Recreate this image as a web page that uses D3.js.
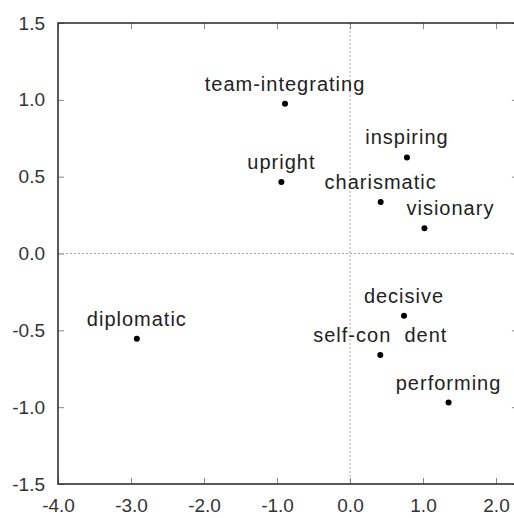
<!DOCTYPE html>
<html>
<head>
<meta charset="utf-8">
<script src="https://cdn.jsdelivr.net/npm/d3@7"></script>
<style>
body { margin: 0; overflow: hidden; background: #fff; }
text { font-family: Arial, "Liberation Sans", sans-serif; }
</style>
</head>
<body>
<svg id="chart" width="514" height="518"></svg>
<script>
// values
var traits = ["team-integrating", "upright", "inspiring", "charismatic", "visionary", "decisive", "self-con  dent", "performing", "diplomatic"];
var dim1 = [-0.89, -0.94, 0.78, 0.42, 1.02, 0.74, 0.415, 1.35, -2.92];
var dim2 = [0.975, 0.465, 0.625, 0.335, 0.165, -0.405, -0.66, -0.97, -0.555];
var xTicks = [-4, -3, -2, -1, 0, 1, 2];
var xTickLabels = ["-4.0", "-3.0", "-2.0", "-1.0", "0.0", "1.0", "2.0"];
var yTicks = [-1.5, -1, -0.5, 0, 0.5, 1, 1.5];
var yTickLabels = ["-1.5", "-1.0", "-0.5", "0.0", "0.5", "1.0", "1.5"];

var svg = d3.select("#chart");
var x = d3.scaleLinear().domain([-4, 2.3]).range([58, 517.9]);
var y = d3.scaleLinear().domain([-1.5, 1.5]).range([484, 23]);

// dotted zero lines
svg.append("line")
	.attr("x1", x(0)).attr("x2", x(0))
	.attr("y1", y(1.5)).attr("y2", y(-1.5))
	.attr("stroke", "#aaa").attr("stroke-dasharray", "2,2");
svg.append("line")
	.attr("x1", x(-4)).attr("x2", x(2.3))
	.attr("y1", y(0)).attr("y2", y(0))
	.attr("stroke", "#aaa").attr("stroke-dasharray", "2,2");

// inward ticks on all four sides
function styleAxis(g) {
	g.select(".domain").remove();
	g.selectAll(".tick line").attr("stroke", "#888");
	g.selectAll(".tick text").attr("fill", "#333").style("font-size", "19px").style("font-family", "Arial, 'Liberation Sans', sans-serif");
}
svg.append("g")
	.attr("transform", "translate(0," + y(-1.5) + ")")
	.call(d3.axisBottom(x).tickValues(xTicks).tickSize(-6).tickPadding(15)
		.tickFormat(function (d, i) { return xTickLabels[i]; }))
	.call(styleAxis);
svg.append("g")
	.attr("transform", "translate(0," + y(1.5) + ")")
	.call(d3.axisTop(x).tickValues(xTicks).tickSize(-6).tickFormat(""))
	.call(styleAxis);
svg.append("g")
	.attr("transform", "translate(" + x(-4) + ",0)")
	.call(d3.axisLeft(y).tickValues(yTicks).tickSize(-6).tickPadding(13)
		.tickFormat(function (d, i) { return yTickLabels[i]; }))
	.call(styleAxis);
svg.append("g")
	.attr("transform", "translate(" + x(2.3) + ",0)")
	.call(d3.axisRight(y).tickValues(yTicks).tickSize(-6).tickFormat(""))
	.call(styleAxis);

// frame
svg.append("rect")
	.attr("x", x(-4)).attr("y", y(1.5))
	.attr("width", x(2.3) - x(-4)).attr("height", y(-1.5) - y(1.5))
	.attr("fill", "none").attr("stroke", "#333").attr("stroke-width", 1.6);

// points and labels
var pts = traits.map(function (t, i) { return {name: t, a: dim1[i], b: dim2[i]}; });
var shift = {"visionary": 26};
svg.selectAll("circle.pt").data(pts).enter().append("circle")
	.attr("class", "pt")
	.attr("cx", function (d) { return x(d.a); })
	.attr("cy", function (d) { return y(d.b); })
	.attr("r", 3)
	.attr("fill", "#000");
svg.selectAll("text.lbl").data(pts).enter().append("text")
	.attr("class", "lbl")
	.attr("x", function (d) { return x(d.a) + (shift[d.name] || 0); })
	.attr("y", function (d) { return y(d.b) - 13; })
	.attr("text-anchor", "middle")
	.attr("fill", "#222")
	.style("font-size", "20px")
	.style("letter-spacing", "1px")
	.style("white-space", "pre")
	.text(function (d) { return d.name; });
</script>
</body>
</html>
